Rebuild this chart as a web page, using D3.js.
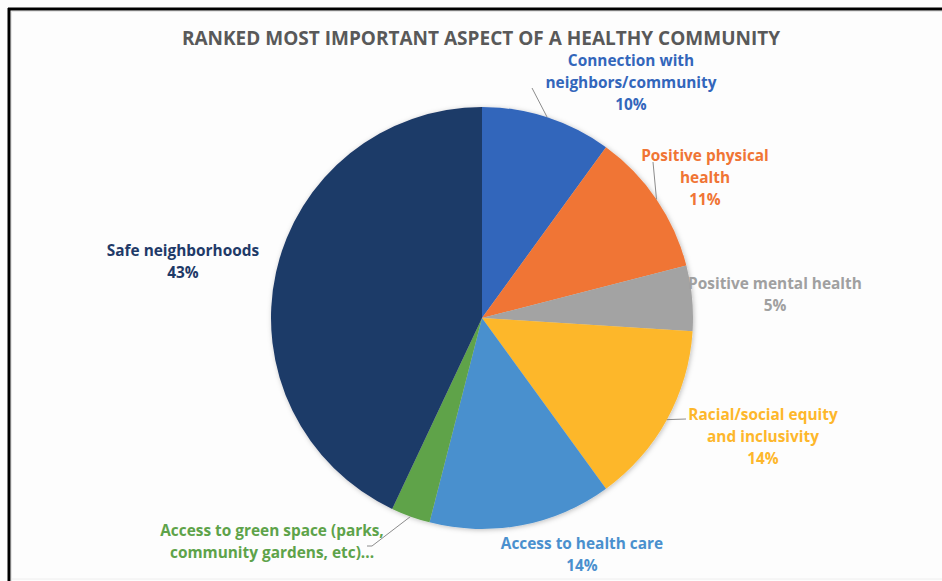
<!DOCTYPE html>
<html>
<head>
<meta charset="utf-8">
<script src="https://cdn.jsdelivr.net/npm/d3@7"></script>
<style>
  body { margin: 0; background: #fff; }
  svg { display: block; }
</style>
</head>
<body>
<svg id="canvas" width="942" height="581"></svg>
<script>
// data
const categories = [
  "Connection with neighbors/community",
  "Positive physical health",
  "Positive mental health",
  "Racial/social equity and inclusivity",
  "Access to health care",
  "Access to green space (parks, community gardens, etc)...",
  "Safe neighborhoods"
]
const values = [10, 11, 5, 14, 14, 3, 43]
const colors = ["#3366BB", "#F07535", "#A3A3A3", "#FDB72B", "#4A90CE", "#5EA34A", "#1F3A68"]
const labelLines = [
  ["Connection with", "neighbors/community"],
  ["Positive physical", "health"],
  ["Positive mental health"],
  ["Racial/social equity", "and inclusivity"],
  ["Access to health care"],
  ["Access to green space (parks,", "community gardens, etc)..."],
  ["Safe neighborhoods"]
]
const showPct = [true, true, true, true, true, false, true]

// layout (where Excel placed the labels) - first line baseline center
const labelPos = [[631, 66], [705, 161], [775, 289], [763, 420], [582, 549], [272, 536], [183, 256]]
// leader line far ends (null = no leader)
const leaderEnd = [[532, 88], [653, 162], null, [686, 419], null, [[372, 546], [367, 546]], null]

const W = 942, H = 581
const cx = 482, cy = 318, R = 211
const lineH = 22
const font = "'Open Sans', Lato, sans-serif"

const canvas = d3.select("#canvas")

// frame
canvas.append("rect").attr("x", 0).attr("y", 0).attr("width", W).attr("height", H).attr("fill", "#fdfdfd")
canvas.append("line").attr("x1", 11).attr("x2", W).attr("y1", 11.5).attr("y2", 11.5)
  .attr("stroke", "#e6e6e6").attr("stroke-width", 1)
canvas.append("line").attr("x1", 11.5).attr("x2", 11.5).attr("y1", 11).attr("y2", H)
  .attr("stroke", "#e6e6e6").attr("stroke-width", 1)
canvas.append("line").attr("x1", 8).attr("x2", W).attr("y1", 9).attr("y2", 9)
  .attr("stroke", "#000").attr("stroke-width", 3)
canvas.append("line").attr("x1", 9).attr("x2", 9).attr("y1", 8).attr("y2", H)
  .attr("stroke", "#000").attr("stroke-width", 3)
canvas.append("line").attr("x1", 12).attr("x2", W).attr("y1", H - 2).attr("y2", H - 2)
  .attr("stroke", "#eeeeee").attr("stroke-width", 1)

// title
canvas.append("text")
  .attr("x", 481).attr("y", 45)
  .attr("text-anchor", "middle")
  .style("font-family", font)
  .style("font-weight", "bold")
  .style("font-size", "19px")
  .attr("fill", "#595959")
  .text("RANKED MOST IMPORTANT ASPECT OF A HEALTHY COMMUNITY")

// shadow filter
const defs = canvas.append("defs")
const f = defs.append("filter").attr("id", "shadow").attr("x", "-10%").attr("y", "-10%").attr("width", "120%").attr("height", "120%")
f.append("feDropShadow").attr("dx", 1).attr("dy", 1).attr("stdDeviation", 2.5).attr("flood-color", "#000").attr("flood-opacity", 0.25)

const pie = d3.pie().sort(null).value(d => d)
const arcs = pie(values)
const arc = d3.arc().innerRadius(0).outerRadius(R)

const g = canvas.append("g").attr("transform", `translate(${cx},${cy})`)
g.append("g").attr("filter", "url(#shadow)")
  .selectAll("path")
  .data(arcs)
  .enter()
  .append("path")
  .attr("d", arc)
  .attr("fill", (d, i) => colors[i])

// leader lines: from slice edge at mid-angle to the label
arcs.forEach((d, i) => {
  const end = leaderEnd[i]
  if (!end) return
  const a = (d.startAngle + d.endAngle) / 2
  const p0 = [cx + R * Math.sin(a), cy - R * Math.cos(a)]
  const pts = Array.isArray(end[0]) ? [p0, ...end] : [p0, end]
  canvas.append("path")
    .attr("d", d3.line()(pts))
    .attr("fill", "none")
    .attr("stroke", "#8c8c8c")
    .attr("stroke-width", 1)
})

// labels
arcs.forEach((d, i) => {
  const lines = labelLines[i].slice()
  if (showPct[i]) lines.push(values[i] + "%")
  const t = canvas.append("text")
    .attr("text-anchor", "middle")
    .style("font-family", font)
    .style("font-weight", "bold")
    .style("font-size", "15.4px")
    .attr("fill", colors[i] === "#A3A3A3" ? "#A0A0A0" : colors[i])
  lines.forEach((s, k) => {
    t.append("tspan")
      .attr("x", labelPos[i][0])
      .attr("y", labelPos[i][1] + k * lineH)
      .text(s)
  })
})
</script>
</body>
</html>
